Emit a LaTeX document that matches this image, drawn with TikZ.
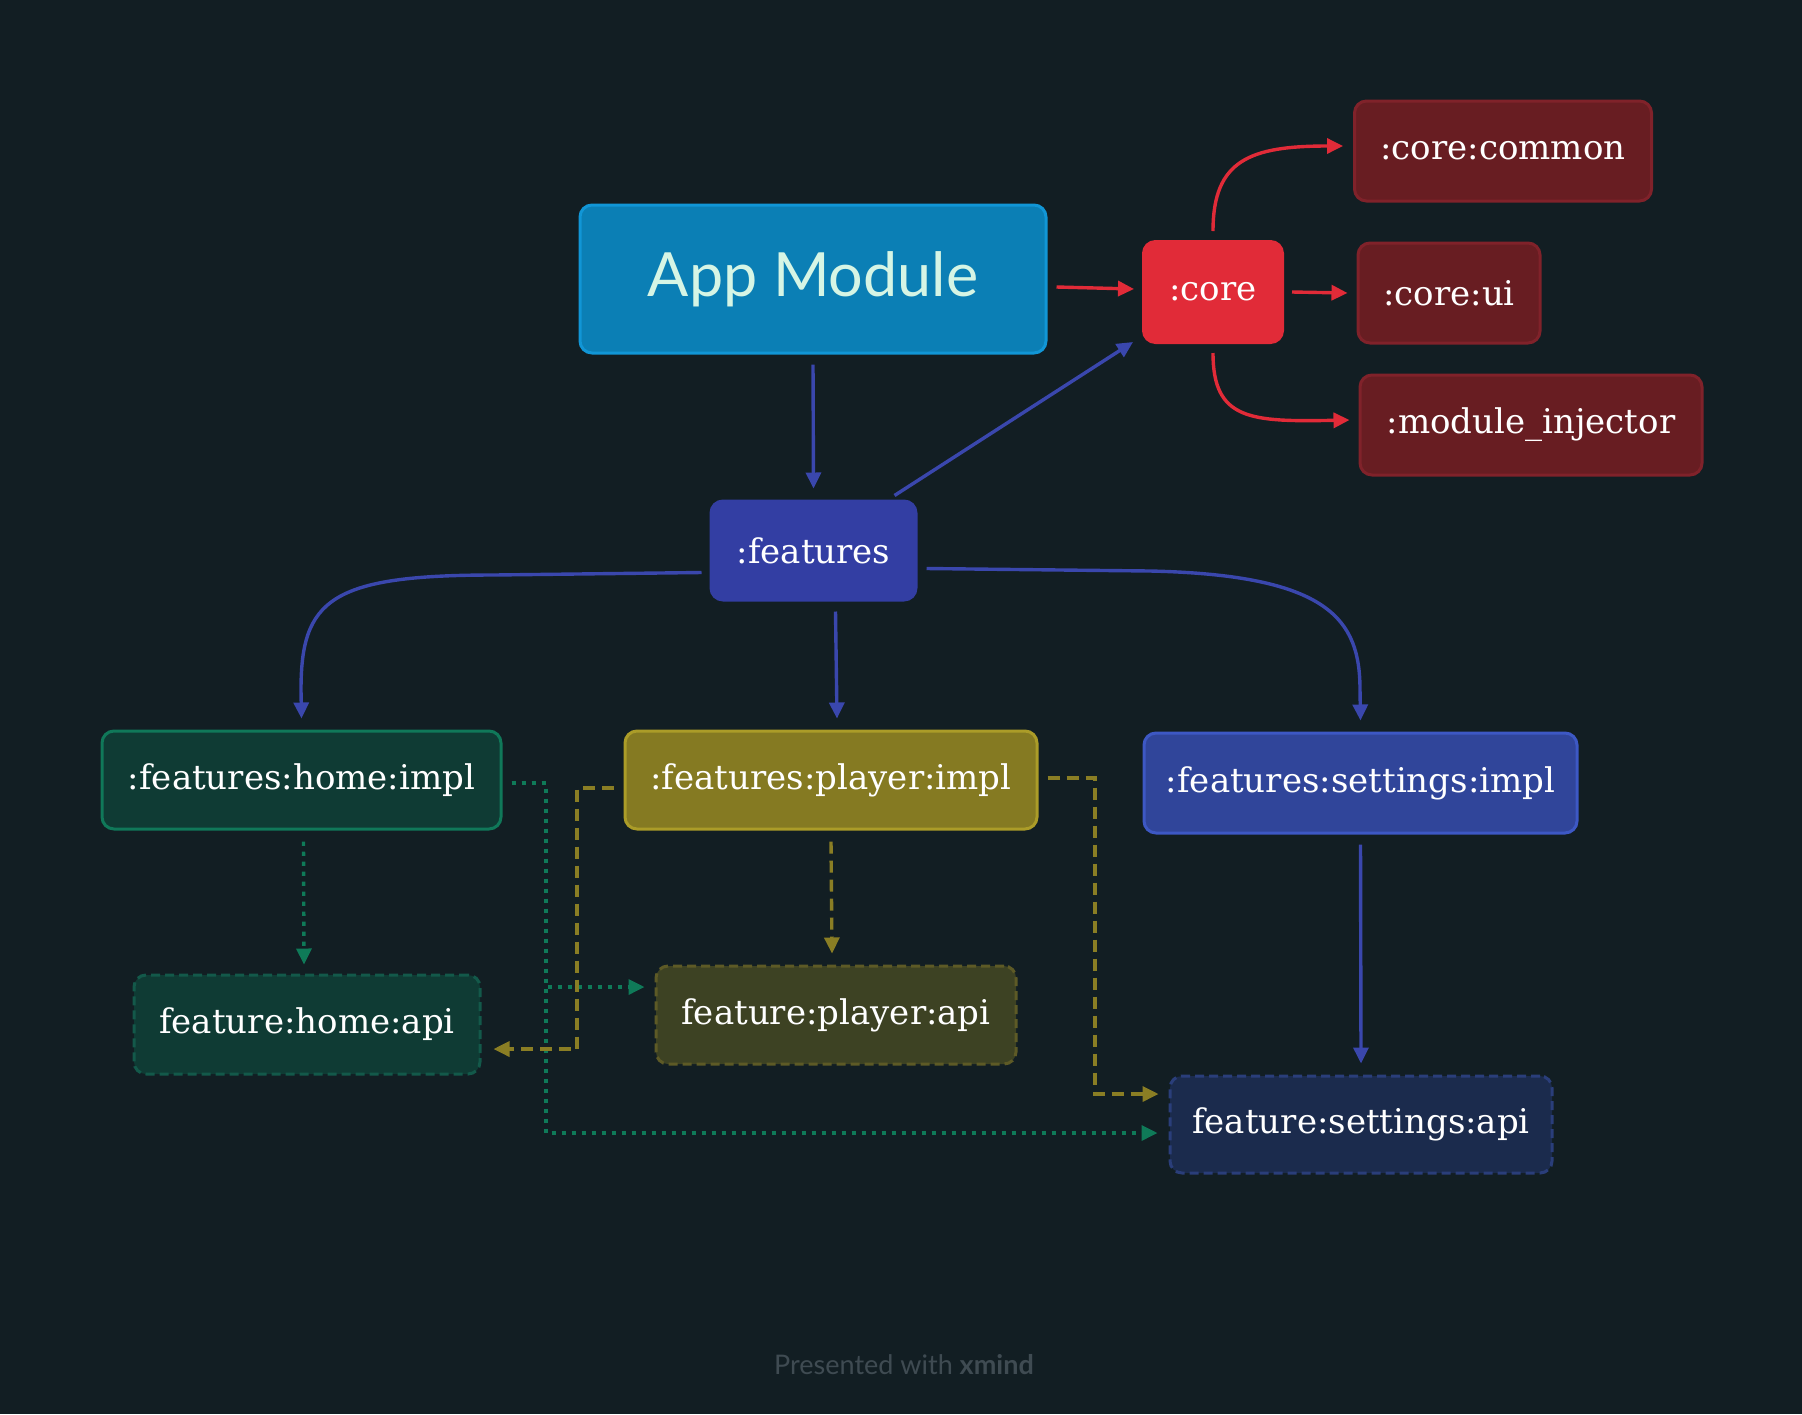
\documentclass[tikz,border=0pt]{standalone}
\usepackage{fontspec}
\setmainfont{DejaVu Serif}
\newfontfamily\latofont{Lato}
\usetikzlibrary{arrows.meta}
\definecolor{bg}{HTML}{121E23}
\definecolor{appfill}{HTML}{0B7FB5}
\definecolor{appdraw}{HTML}{1196D6}
\definecolor{apptext}{HTML}{D6F5E5}
\definecolor{corered}{HTML}{E12B38}
\definecolor{subfill}{HTML}{681D22}
\definecolor{subdraw}{HTML}{80222A}
\definecolor{featfill}{HTML}{333EA3}
\definecolor{bluearrow}{HTML}{3A47AD}
\definecolor{homefill}{HTML}{0F3B34}
\definecolor{homedraw}{HTML}{107859}
\definecolor{homeapidraw}{HTML}{13594A}
\definecolor{playfill}{HTML}{857A22}
\definecolor{playdraw}{HTML}{AB9C28}
\definecolor{playapifill}{HTML}{3D4223}
\definecolor{playapidraw}{HTML}{5D5A26}
\definecolor{setfill}{HTML}{30459A}
\definecolor{setdraw}{HTML}{3D58C4}
\definecolor{setapifill}{HTML}{1B2B4D}
\definecolor{setapidraw}{HTML}{2A3E7A}
\definecolor{greenline}{HTML}{0F7A58}
\definecolor{oliveline}{HTML}{8A7E24}
\definecolor{footgray}{HTML}{3F4B52}
\tikzset{
  box/.style={rectangle, rounded corners=6pt, line width=1.5pt, text=white, inner sep=0pt, align=center,
    font=\fontsize{17}{20}\selectfont},
  dashbox/.style={box, dash pattern=on 4.5pt off 2.5pt},
  arr/.style={line width=1.7pt, -{Triangle[length=8pt,width=7.5pt]}},
  redarr/.style={arr, draw=corered},
  bluearr/.style={arr, draw=bluearrow},
  greenarr/.style={arr, draw=greenline, dash pattern=on 2.2pt off 2.8pt},
  olivearr/.style={arr, draw=oliveline, dash pattern=on 6pt off 3.5pt},
}
\begin{document}
\begin{tikzpicture}[x=0.5pt,y=-0.5pt]
\fill[bg] (0,0) rectangle (1802,1414);
\useasboundingbox (0,0) rectangle (1802,1414);

% nodes
\node[box, fill=appfill, draw=appdraw, text=apptext, minimum width=233pt, minimum height=74pt,
  font=\latofont\fontsize{30.5}{34}\selectfont] (app) at (813,279) {App Module};
\node[box, fill=corered, draw=corered, minimum width=69.5pt, minimum height=50.5pt] (core) at (1213,292) {:core};
\node[box, fill=subfill, draw=subdraw, minimum width=148.5pt, minimum height=50pt] (common) at (1503,151) {:core:common};
\node[box, fill=subfill, draw=subdraw, minimum width=91pt, minimum height=50pt] (ui) at (1449,293) {:core:ui};
\node[box, fill=subfill, draw=subdraw, minimum width=171pt, minimum height=50pt] (inj) at (1531,425) {:module\_injector};
\node[box, fill=featfill, draw=featfill, minimum width=102.5pt, minimum height=49.5pt] (features) at (813.5,550.5) {:features};
\node[box, fill=homefill, draw=homedraw, minimum width=199.5pt, minimum height=49pt] (himpl) at (301.5,780) {:features:home:impl};
\node[box, fill=playfill, draw=playdraw, minimum width=206pt, minimum height=49pt] (pimpl) at (831,780) {:features:player:impl};
\node[box, fill=setfill, draw=setdraw, minimum width=216.5pt, minimum height=50pt] (simpl) at (1360.5,783) {:features:settings:impl};
\node[dashbox, fill=homefill, draw=homeapidraw, minimum width=173pt, minimum height=49.5pt] (hapi) at (307,1024.5) {feature:home:api};
\node[dashbox, fill=playapifill, draw=playapidraw, minimum width=180pt, minimum height=49pt] (papi) at (836,1015) {feature:player:api};
\node[dashbox, fill=setapifill, draw=setapidraw, minimum width=191pt, minimum height=48.5pt] (sapi) at (1361,1124.5) {feature:settings:api};
\node[text=footgray, font=\latofont\fontsize{13.5}{16}\selectfont, inner sep=0pt] (foot) at (904,1365) {Presented with \textbf{xmind}};

% red connectors
\draw[redarr] ([xshift=4.5pt,yshift=-4pt]app.east) -- ([xshift=-4pt,yshift=1.5pt]core.west);
\draw[redarr] ([yshift=4.5pt]core.north) .. controls (1213,160) and (1250,146) .. ([xshift=-5pt,yshift=2.5pt]common.west);
\draw[redarr] ([xshift=4pt]core.east) -- ([xshift=-4.5pt]ui.west);
\draw[redarr] ([yshift=-4.5pt]core.south) .. controls (1213,420) and (1250,422) .. ([xshift=-4.5pt,yshift=2.5pt]inj.west);

% blue connectors
\draw[bluearr] ([yshift=-5pt]app.south) -- ([yshift=5.5pt]features.north);
\draw[bluearr] ([xshift=-11.5pt,yshift=2pt]features.north east) -- ([xshift=-4.5pt,yshift=1pt]core.south west);
\draw[bluearr] ([xshift=-4pt,yshift=-11pt]features.west) -- (494,575) .. controls (330,575) and (301,600) .. (301,690) -- ([yshift=5.5pt]himpl.north);
\draw[bluearr] ([xshift=11pt,yshift=-5pt]features.south) -- ([xshift=3pt,yshift=5.5pt]pimpl.north);
\draw[bluearr] ([xshift=4.5pt,yshift=-9pt]features.east) -- (1150,571) .. controls (1330,575) and (1360,620) .. (1360,690) -- ([yshift=5.5pt]simpl.north);
\draw[bluearr] ([yshift=-5pt]simpl.south) -- ([yshift=5.5pt]sapi.north);

% green dotted connectors
\coordinate (gA) at (546,783);
\draw[greenarr] ([xshift=1pt,yshift=-5.5pt]himpl.south) -- ([xshift=-1.5pt,yshift=4.5pt]hapi.north);
\draw[greenarr] ([xshift=4.5pt,yshift=-1.5pt]himpl.east) -- (gA) |- ([xshift=-5pt,yshift=14pt]papi.west);
\draw[greenarr] ([xshift=4.5pt,yshift=-1.5pt]himpl.east) -- (gA) |- ([xshift=-5.5pt,yshift=-4.25pt]sapi.west);

% olive dashed connectors
\coordinate (oA) at (577,788);
\coordinate (oB) at (1095,778);
\draw[olivearr] ([xshift=-5pt,yshift=-4pt]pimpl.west) -- (oA) |- ([xshift=6pt,yshift=-12.25pt]hapi.east);
\draw[olivearr] ([yshift=-5.5pt]pimpl.south) -- ([xshift=-2pt,yshift=5.5pt]papi.north);
\draw[olivearr] ([xshift=4.5pt,yshift=1pt]pimpl.east) -- (oB) |- ([xshift=-5pt,yshift=15.25pt]sapi.west);
\end{tikzpicture}
\end{document}
